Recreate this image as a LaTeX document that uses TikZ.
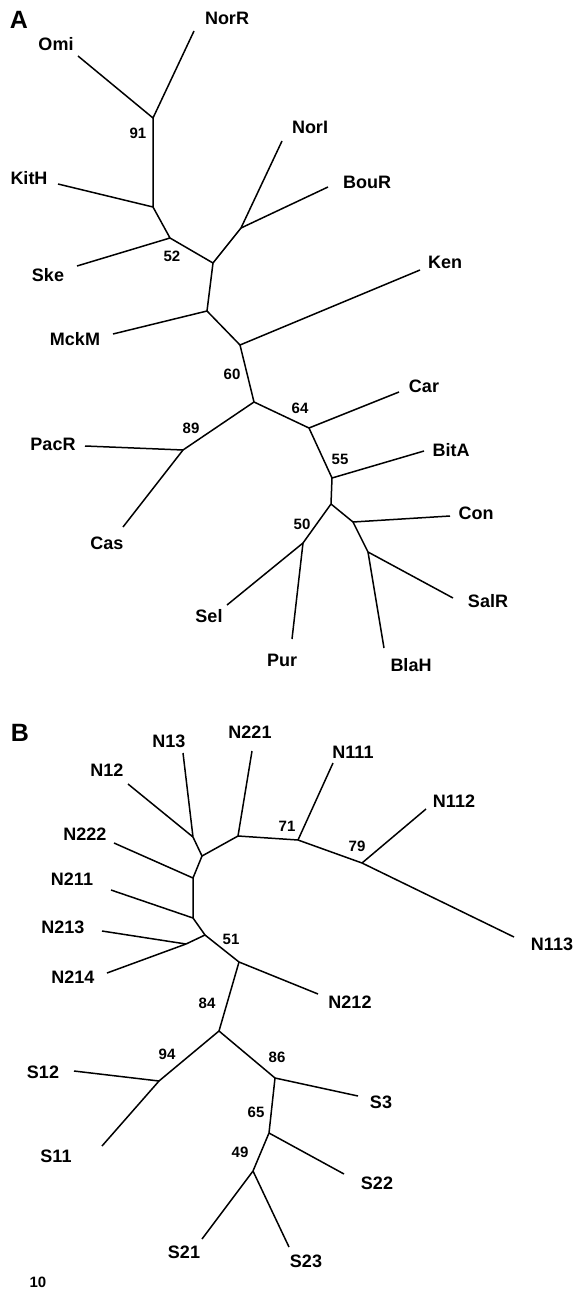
\documentclass[tikz,border=0pt]{standalone}
\usepackage{fontspec}
\setmainfont{Liberation Sans}
\usepackage{tikz}
\tikzstyle{taxon} = [inner sep=0pt, font=\fontsize{18}{20}\selectfont\bfseries]
\tikzstyle{boot} = [inner sep=0pt, font=\fontsize{15}{17}\selectfont\bfseries]
\tikzstyle{panel} = [inner sep=0pt, font=\fontsize{25}{28}\selectfont\bfseries]
\tikzstyle{branch} = [line width=1.5pt, line join=round]

\begin{document}
\begin{tikzpicture}[x=1pt, y=-1pt]
            \useasboundingbox (0,0) rectangle (576,1292);

            % panel A
            \node [panel] at (19,20) (panA) {A};
            \coordinate (a91) at (153,118);
            \coordinate (aK) at (153,207);
            \coordinate (a52) at (170,238);
            \coordinate (aX) at (213,263);
            \coordinate (aNB) at (241,228);
            \coordinate (aM) at (207,311);
            \coordinate (aKen) at (240,345);
            \coordinate (a60) at (254,402);
            \coordinate (a89) at (183,450);
            \coordinate (a64) at (309,428);
            \coordinate (a55) at (332,478);
            \coordinate (aC) at (331,504);
            \coordinate (a50) at (303,543);
            \coordinate (aCon) at (353,522);
            \coordinate (aSB) at (368,552);

            \coordinate (tOmi) at (78,56);
            \coordinate (tNorR) at (194,31);
            \coordinate (tKitH) at (58,184);
            \coordinate (tSke) at (77,266);
            \coordinate (tNorI) at (282,141);
            \coordinate (tBouR) at (328,187);
            \coordinate (tMckM) at (113,334);
            \coordinate (tKen) at (420,270);
            \coordinate (tPacR) at (85,446);
            \coordinate (tCas) at (123,527);
            \coordinate (tCar) at (399,392);
            \coordinate (tBitA) at (424,451);
            \coordinate (tCon) at (450,516);
            \coordinate (tSalR) at (453,598);
            \coordinate (tBlaH) at (384,648);
            \coordinate (tSel) at (227,605);
            \coordinate (tPur) at (292,639);

            \node [taxon] at (56,44) (Omi) {Omi};
            \node [taxon] at (227,18) (NorR) {NorR};
            \node [taxon] at (29,178) (KitH) {KitH};
            \node [taxon] at (48,275) (Ske) {Ske};
            \node [taxon] at (310,127) (NorI) {NorI};
            \node [taxon] at (367,182) (BouR) {BouR};
            \node [taxon] at (75,339) (MckM) {MckM};
            \node [taxon] at (445,262) (Ken) {Ken};
            \node [taxon] at (53,444) (PacR) {PacR};
            \node [taxon] at (107,543) (Cas) {Cas};
            \node [taxon] at (424,386) (Car) {Car};
            \node [taxon] at (451,450) (BitA) {BitA};
            \node [taxon] at (476,513) (Con) {Con};
            \node [taxon] at (488,601) (SalR) {SalR};
            \node [taxon] at (411,665) (BlaH) {BlaH};
            \node [taxon] at (209,616) (Sel) {Sel};
            \node [taxon] at (282,660) (Pur) {Pur};

            \node [boot] at (138,133) (b91) {91};
            \node [boot] at (172,256) (b52) {52};
            \node [boot] at (232,374) (b60) {60};
            \node [boot] at (300,408) (b64) {64};
            \node [boot] at (191,428) (b89) {89};
            \node [boot] at (340,459) (b55) {55};
            \node [boot] at (302,524) (b50) {50};

            \draw [branch] (tOmi) -- (a91) -- (tNorR);
            \draw [branch] (a91) -- (aK) -- (tKitH);
            \draw [branch] (aK) -- (a52) -- (tSke);
            \draw [branch] (a52) -- (aX) -- (aNB) -- (tNorI);
            \draw [branch] (aNB) -- (tBouR);
            \draw [branch] (aX) -- (aM) -- (tMckM);
            \draw [branch] (aM) -- (aKen) -- (tKen);
            \draw [branch] (aKen) -- (a60) -- (a89) -- (tPacR);
            \draw [branch] (a89) -- (tCas);
            \draw [branch] (a60) -- (a64) -- (tCar);
            \draw [branch] (a64) -- (a55) -- (tBitA);
            \draw [branch] (a55) -- (aC) -- (a50) -- (tSel);
            \draw [branch] (a50) -- (tPur);
            \draw [branch] (aC) -- (aCon) -- (tCon);
            \draw [branch] (aCon) -- (aSB) -- (tSalR);
            \draw [branch] (aSB) -- (tBlaH);

            % panel B
            \node [panel] at (20,733) (panB) {B};
            \coordinate (b1) at (193,837);
            \coordinate (b2) at (202,856);
            \coordinate (b221) at (238,836);
            \coordinate (b71) at (298,840);
            \coordinate (b79) at (362,863);
            \coordinate (b3) at (193,878);
            \coordinate (b4) at (193,918);
            \coordinate (b51) at (205,935);
            \coordinate (b5) at (186,944);
            \coordinate (b212) at (239,962);
            \coordinate (b84) at (219,1031);
            \coordinate (b94) at (159,1081);
            \coordinate (b86) at (275,1078);
            \coordinate (b65) at (269,1133);
            \coordinate (b49) at (253,1171);

            \coordinate (tN12) at (128,784);
            \coordinate (tN13) at (183,753);
            \coordinate (tN221) at (252,751);
            \coordinate (tN111) at (333,763);
            \coordinate (tN112) at (426,809);
            \coordinate (tN113) at (514,937);
            \coordinate (tN222) at (114,843);
            \coordinate (tN211) at (111,890);
            \coordinate (tN213) at (102,931);
            \coordinate (tN214) at (107,973);
            \coordinate (tN212) at (318,994);
            \coordinate (tS12) at (74,1071);
            \coordinate (tS11) at (102,1146);
            \coordinate (tS3) at (358,1096);
            \coordinate (tS22) at (344,1174);
            \coordinate (tS21) at (202,1239);
            \coordinate (tS23) at (289,1247);

            \node [taxon] at (107,770) (N12) {N12};
            \node [taxon] at (169,741) (N13) {N13};
            \node [taxon] at (250,732) (N221) {N221};
            \node [taxon] at (353,752) (N111) {N111};
            \node [taxon] at (454,801) (N112) {N112};
            \node [taxon] at (552,944) (N113) {N113};
            \node [taxon] at (85,834) (N222) {N222};
            \node [taxon] at (72,879) (N211) {N211};
            \node [taxon] at (63,927) (N213) {N213};
            \node [taxon] at (73,977) (N214) {N214};
            \node [taxon] at (350,1002) (N212) {N212};
            \node [taxon] at (43,1072) (S12) {S12};
            \node [taxon] at (56,1156) (S11) {S11};
            \node [taxon] at (381,1102) (S3) {S3};
            \node [taxon] at (377,1183) (S22) {S22};
            \node [taxon] at (184,1252) (S21) {S21};
            \node [taxon] at (306,1261) (S23) {S23};

            \node [boot] at (287,826) (b71l) {71};
            \node [boot] at (357,846) (b79l) {79};
            \node [boot] at (231,939) (b51l) {51};
            \node [boot] at (207,1003) (b84l) {84};
            \node [boot] at (167,1054) (b94l) {94};
            \node [boot] at (277,1057) (b86l) {86};
            \node [boot] at (256,1112) (b65l) {65};
            \node [boot] at (240,1152) (b49l) {49};
            \node [boot] at (38,1282) (scale) {10};

            \draw [branch] (tN12) -- (b1) -- (tN13);
            \draw [branch] (b1) -- (b2) -- (b221) -- (tN221);
            \draw [branch] (b221) -- (b71) -- (tN111);
            \draw [branch] (b71) -- (b79) -- (tN112);
            \draw [branch] (b79) -- (tN113);
            \draw [branch] (b2) -- (b3) -- (tN222);
            \draw [branch] (b3) -- (b4) -- (tN211);
            \draw [branch] (b4) -- (b51) -- (b5) -- (tN213);
            \draw [branch] (b5) -- (tN214);
            \draw [branch] (b51) -- (b212) -- (tN212);
            \draw [branch] (b212) -- (b84) -- (b94) -- (tS12);
            \draw [branch] (b94) -- (tS11);
            \draw [branch] (b84) -- (b86) -- (tS3);
            \draw [branch] (b86) -- (b65) -- (tS22);
            \draw [branch] (b65) -- (b49) -- (tS21);
            \draw [branch] (b49) -- (tS23);
            \end{tikzpicture}
\end{document}
